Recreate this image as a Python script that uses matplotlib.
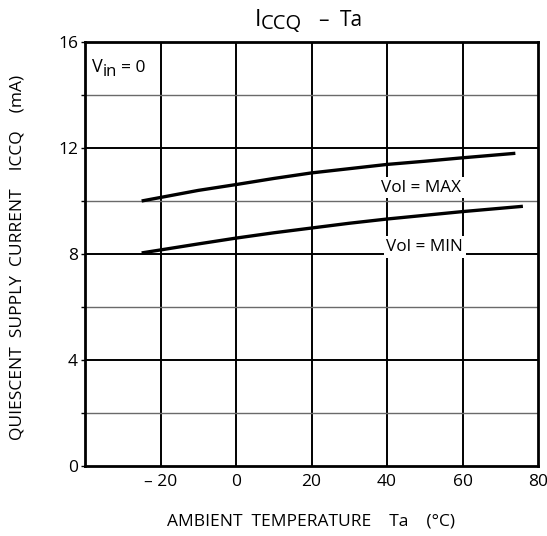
import matplotlib
matplotlib.use("Agg")
import matplotlib.pyplot as plt

plt.rcParams['font.family'] = ['Open Sans', 'DejaVu Sans']

# Data
temp_max = [-25, -10, 0, 10, 20, 30, 40, 50, 60, 74]
icc_max = [10.0, 10.4, 10.62, 10.85, 11.06, 11.22, 11.38, 11.5, 11.63, 11.8]
temp_min = [-25, -10, 0, 10, 20, 30, 40, 50, 60, 76]
icc_min = [8.04, 8.38, 8.6, 8.8, 8.98, 9.16, 9.32, 9.46, 9.6, 9.8]

x_ticks = [-20, 0, 20, 40, 60, 80]
x_ticklabels = ['– 20', '0', '20', '40', '60', '80']
y_major = [0, 4, 8, 12, 16]
y_minor = [2, 6, 10, 14]

W, H = 547, 536
fig = plt.figure(figsize=(W/100, H/100), dpi=100)
ax = fig.add_axes([85/W, 1-466/H, (538-85)/W, (466-42)/H])
ax.set_xlim(-40, 80)
ax.set_ylim(0, 16)

# grid
for xv in x_ticks[:-1]:
    ax.axvline(xv, color='black', lw=1.4, zorder=1)
for yv in y_major[1:-1]:
    ax.axhline(yv, color='black', lw=1.4, zorder=1)
for yv in y_minor:
    ax.axhline(yv, color='#6a6a6a', lw=1.0, zorder=1)

ax.plot(temp_max, icc_max, color='black', lw=2.4, solid_capstyle='butt', zorder=3)
ax.plot(temp_min, icc_min, color='black', lw=2.4, solid_capstyle='butt', zorder=3)

ax.set_xticks(x_ticks)
ax.set_xticklabels(x_ticklabels)
ax.set_yticks(y_major)
ax.set_yticks(y_minor, minor=True)
ax.tick_params(axis='both', which='both', direction='out', length=3, width=1,
               labelsize=12.5, pad=2)
ax.tick_params(axis='x', length=0, pad=6)
for s in ax.spines.values():
    s.set_linewidth(2)

ax.text(49, 10.5, 'Vol = MAX', ha='center', va='center', fontsize=12.3,
        bbox=dict(facecolor='white', edgecolor='none', pad=2), zorder=4)
ax.text(50, 8.26, 'Vol = MIN', ha='center', va='center', fontsize=12.3,
        bbox=dict(facecolor='white', edgecolor='none', pad=2), zorder=4)


def ftext(px, py, s, size):
    fig.text(px/W, 1-py/H, s, ha='left', va='baseline', fontsize=size)


# V_in = 0
ftext(92, 72, 'V', 13)
ftext(103, 76, 'in', 12)
ftext(121, 72, '= 0', 12.5)

# Title I_CCQ - Ta
ftext(255, 26, 'I', 16.5)
ftext(261, 29, 'CCQ', 14.5)
ftext(318, 26, '–', 15)
ftext(340, 26, 'Ta', 15)

fig.text(311/W, 1-522/H, 'AMBIENT  TEMPERATURE    Ta    (°C)', ha='center', va='center', fontsize=12.5)
fig.text(18/W, 1-257/H, 'QUIESCENT  SUPPLY  CURRENT    ICCQ    (mA)',
         ha='center', va='center', rotation=90, fontsize=12.5)

fig.savefig('out.png', dpi=100)
